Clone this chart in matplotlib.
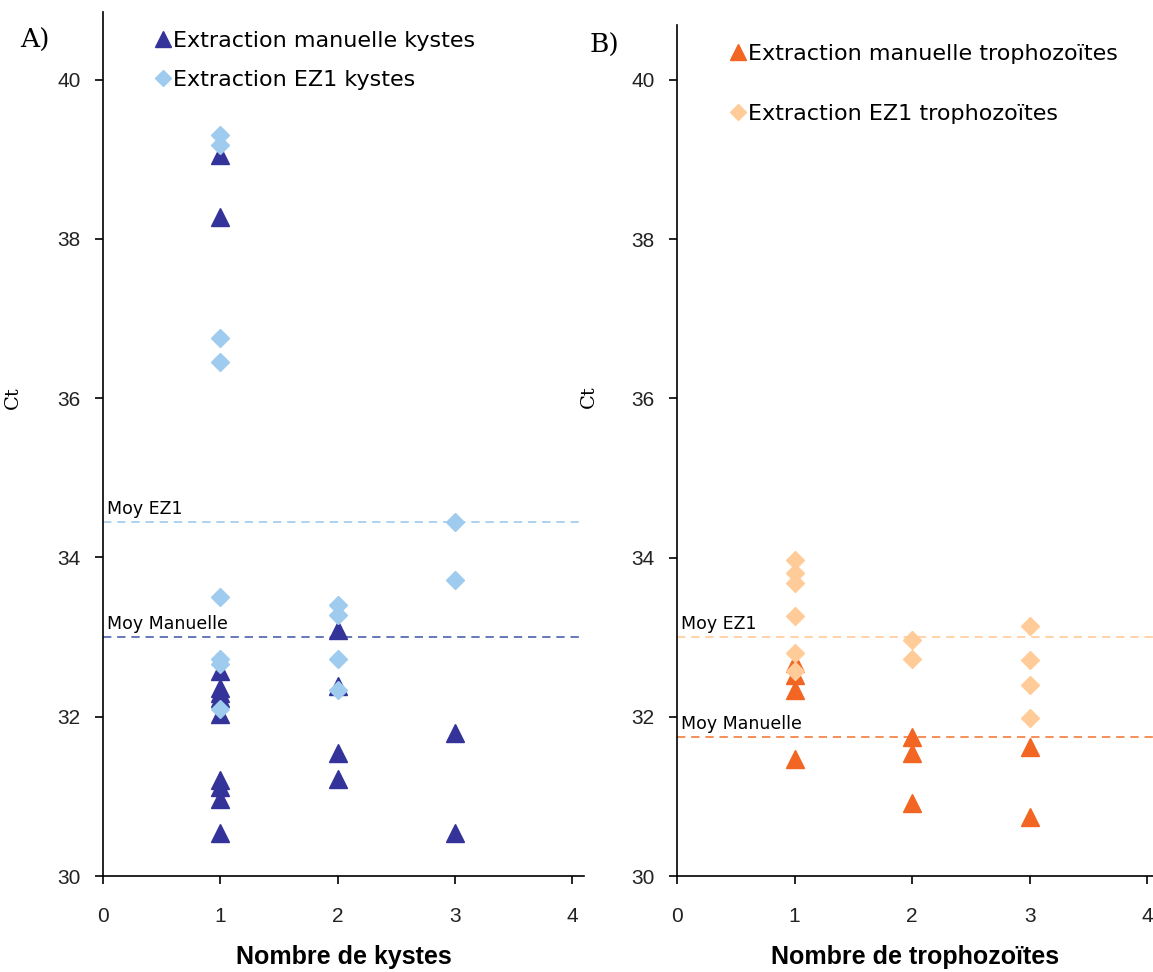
import matplotlib
matplotlib.use('Agg')
import matplotlib.pyplot as plt

# Panel A - kystes
kystes_manuel_x = [1, 1, 1, 1, 1, 1, 1, 1, 1, 1, 1, 2, 2, 2, 2, 3, 3]
kystes_manuel_ct = [39.05, 38.28, 32.58, 32.36, 32.30, 32.24, 32.04, 31.20, 31.12, 30.97, 30.54,
                    33.09, 32.38, 31.55, 31.22, 31.80, 30.54]
kystes_ez1_x = [1, 1, 1, 1, 1, 1, 1, 1, 2, 2, 2, 2, 3, 3]
kystes_ez1_ct = [39.30, 39.18, 36.75, 36.46, 33.50, 32.72, 32.66, 32.10,
                 33.40, 33.28, 32.72, 32.33, 34.44, 33.72]
kystes_moy_ez1 = 34.45
kystes_moy_manuel = 33.0

# Panel B - trophozoites
tropho_manuel_x = [1, 1, 1, 1, 2, 2, 2, 3, 3]
tropho_manuel_ct = [32.68, 32.52, 32.34, 31.47, 31.75, 31.54, 30.92, 31.62, 30.74]
tropho_ez1_x = [1, 1, 1, 1, 1, 1, 2, 2, 3, 3, 3, 3]
tropho_ez1_ct = [33.97, 33.80, 33.68, 33.27, 32.80, 32.58, 32.97, 32.72,
                 33.14, 32.71, 32.40, 31.98]
tropho_moy_ez1 = 33.0
tropho_moy_manuel = 31.75

xticks = [0, 1, 2, 3, 4]
yticks = [30, 32, 34, 36, 38, 40]

NAVY = '#333399'
LBLUE = '#9ECBEE'
ORANGE = '#F26522'
LORANGE = '#FFCC99'

tickfont = ['Liberation Sans Narrow', 'Liberation Sans', 'DejaVu Sans']


def draw_panel(ax, xm, ym, xe, ye, moy_e, moy_m, c_m, c_e, c_line_m, c_line_e,
               lab_m, lab_e, xlabel, xmax, ymax):
    ax.axhline(moy_e, color=c_line_e, lw=1.2, dashes=(5, 3.5), zorder=1)
    ax.axhline(moy_m, color=c_line_m, lw=1.2, dashes=(5, 3.5), zorder=1)
    ax.text(0.03, moy_e + 0.05, 'Moy EZ1', fontsize=12.5, va='bottom', ha='left',
            family='DejaVu Sans')
    ax.text(0.03, moy_m + 0.05, 'Moy Manuelle', fontsize=12.5, va='bottom', ha='left',
            family='DejaVu Sans')
    ax.plot(xm, ym, linestyle='none', marker='^', ms=13, color=c_m, mec=c_m,
            zorder=3, label=lab_m)
    ax.plot(xe, ye, linestyle='none', marker='D', ms=9, color=c_e, mec=c_e,
            zorder=4, label=lab_e)
    ax.set_xlim(0, xmax)
    ax.set_ylim(30, ymax)
    ax.set_xticks(xticks)
    ax.set_yticks(yticks)
    for s in ['top', 'right']:
        ax.spines[s].set_visible(False)
    for s in ['left', 'bottom']:
        ax.spines[s].set_linewidth(1.2)
    ax.tick_params(direction='out', length=6, width=1.2, labelsize=15)
    ax.tick_params(axis='x', pad=16)
    ax.tick_params(axis='y', pad=10)
    for lbl in ax.get_xticklabels() + ax.get_yticklabels():
        lbl.set_family(tickfont)
        lbl.set_color('#222222')
    ax.set_xlabel(xlabel, fontsize=18, fontweight='bold', family=tickfont, labelpad=14)
    ax.set_ylabel('Ct', fontsize=14, family='DejaVu Serif')


fig = plt.figure(figsize=(11.53, 9.72), dpi=100)
axA = fig.add_axes([103 / 1153, 96 / 972, 481 / 1153, 864 / 972])
axB = fig.add_axes([677 / 1153, 96 / 972, 476 / 1153, 851 / 972])

draw_panel(axA, kystes_manuel_x, kystes_manuel_ct, kystes_ez1_x, kystes_ez1_ct,
           kystes_moy_ez1, kystes_moy_manuel, NAVY, LBLUE, '#4A62B0', LBLUE,
           'Extraction manuelle kystes', 'Extraction EZ1 kystes',
           'Nombre de kystes', 4.1, 40.85)
draw_panel(axB, tropho_manuel_x, tropho_manuel_ct, tropho_ez1_x, tropho_ez1_ct,
           tropho_moy_ez1, tropho_moy_manuel, ORANGE, LORANGE, '#F47B3A', LORANGE,
           'Extraction manuelle trophozoïtes', 'Extraction EZ1 trophozoïtes',
           'Nombre de trophozoïtes', 4.05, 40.69)

axA.yaxis.set_label_coords(-0.168, 0.554)
axB.yaxis.set_label_coords(-0.166, 0.563)

axA.legend(loc='upper left', bbox_to_anchor=(140 / 1153, 1 - 20 / 972),
           bbox_transform=fig.transFigure, frameon=False, fontsize=16,
           handletextpad=-0.1, handlelength=1.1, labelspacing=0.85, borderpad=0,
           markerscale=0.9)
axB.legend(loc='upper left', bbox_to_anchor=(715 / 1153, 1 - 33 / 972),
           bbox_transform=fig.transFigure, frameon=False, fontsize=16,
           handletextpad=-0.1, handlelength=1.1, labelspacing=1.8, borderpad=0,
           markerscale=0.9)

fig.text(20 / 1153, 1 - 40 / 972, 'A)', fontsize=19, family='DejaVu Serif',
         va='center', ha='left')
fig.text(590 / 1153, 1 - 45 / 972, 'B)', fontsize=19, family='DejaVu Serif',
         va='center', ha='left')

fig.savefig('out.png', dpi=100)
